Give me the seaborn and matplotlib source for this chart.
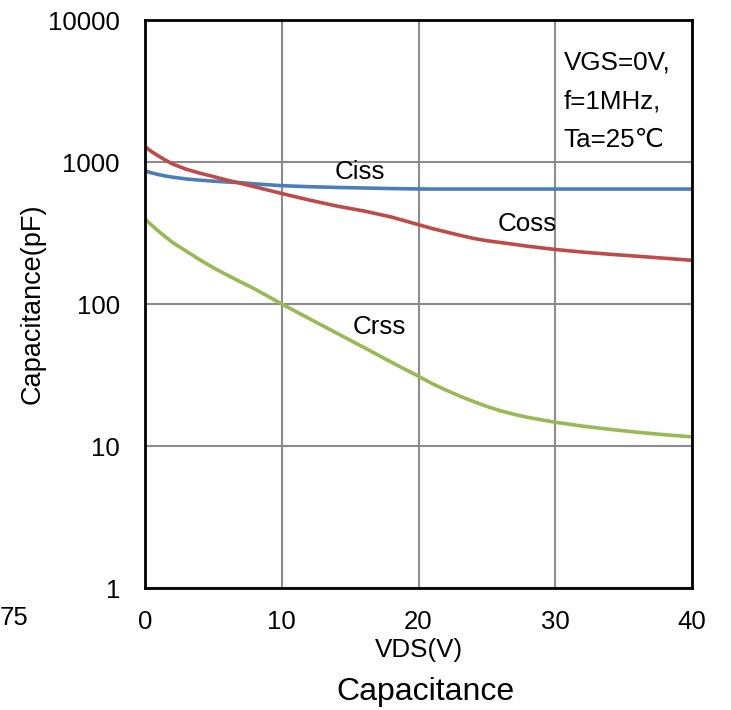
import numpy as np
import pandas as pd
import matplotlib
matplotlib.use("Agg")
import matplotlib.pyplot as plt
import seaborn as sns

vds = [0, 0.5, 1, 1.5, 2, 3, 4, 5, 6, 7, 8, 10, 12, 14, 16, 18, 20, 21, 22, 23, 24, 25, 26, 27, 28, 30, 32, 34, 36, 38, 40]
ciss = [865, 838, 815, 797, 782, 760, 745, 733, 723, 715, 702, 681, 670, 662, 656, 650, 646, 645, 645, 645, 645, 645, 645, 645, 645, 645, 645, 645, 645, 645, 645]
coss = [1282, 1180, 1100, 1030, 970, 890, 835, 790, 745, 707, 670, 600, 540, 490, 452, 410, 362, 340, 322, 305, 290, 279, 271, 263, 255, 242, 232, 224, 217, 210, 203]
crss = [397, 358, 325, 297, 272, 236, 205, 180, 160, 143, 128, 100, 79, 62.5, 49.5, 39, 31, 27.5, 24.8, 22.5, 20.6, 19.0, 17.7, 16.7, 15.9, 14.7, 13.8, 13.1, 12.5, 12.0, 11.6]
series_names = ["Ciss", "Coss", "Crss"]
colors = ["#4a7ebb", "#be4b48", "#98b954"]
x_ticks = [0, 10, 20, 30, 40]
y_ticks = [1, 10, 100, 1000, 10000]
y_tick_labels = ["1", "10", "100", "1000", "10000"]

df = pd.DataFrame({
    "VDS": vds * 3,
    "C": ciss + coss + crss,
    "series": [s for s in series_names for _ in vds],
})

sns.set_theme(style="white")
plt.rcParams['font.family'] = ['Liberation Sans', 'DejaVu Sans']

fig = plt.figure(figsize=(7.31, 7.10), dpi=100)
ax = fig.add_axes([145/731, 1-588/710, (692-145)/731, (588-20)/710])

sns.lineplot(data=df, x="VDS", y="C", hue="series", palette=dict(zip(series_names, colors)),
             linewidth=2.6, legend=False, ax=ax, zorder=3)

ax.set_yscale("log")
ax.set_xlim(0, 40)
ax.set_ylim(1, 10000)
ax.set_xticks(x_ticks)
ax.set_xticklabels([str(t) for t in x_ticks])
ax.set_yticks(y_ticks)
ax.set_yticklabels(y_tick_labels)
ax.yaxis.set_minor_locator(matplotlib.ticker.NullLocator())
ax.tick_params(axis="both", length=0, labelsize=18.5, colors="black")
ax.tick_params(axis="y", pad=18)
ax.tick_params(axis="x", pad=16)
ax.grid(True, which="major", color="#8c8c8c", linewidth=1.5)
for sp in ax.spines.values():
    sp.set_color("black")
    sp.set_linewidth(2)
    sp.set_zorder(4)

ax.set_xlabel("VDS(V)", fontsize=18.7, labelpad=3, color="black")
ax.set_ylabel("Capacitance(pF)", fontsize=19.5, labelpad=2, color="black")

ax.text(13.9, 855, "Ciss", fontsize=18.7, ha="left", va="center", color="black")
ax.text(25.8, 300, "Coss", fontsize=18.7, ha="left", va="bottom", color="black")
ax.text(15.2, 57, "Crss", fontsize=18.7, ha="left", va="bottom", color="black")
ax.text(30.6, 6050, "VGS=0V,\nf=1MHz,\nTa=25℃", fontsize=18.7, ha="left", va="top",
        linespacing=1.75, color="black")

fig.text(425/731, 1-692/710, "Capacitance", fontsize=23, ha="center", va="center", color="black")
fig.text(0.0, 1-618/710, "75", fontsize=18.5, ha="left", va="center", color="black")

fig.savefig("out.png", dpi=100)
